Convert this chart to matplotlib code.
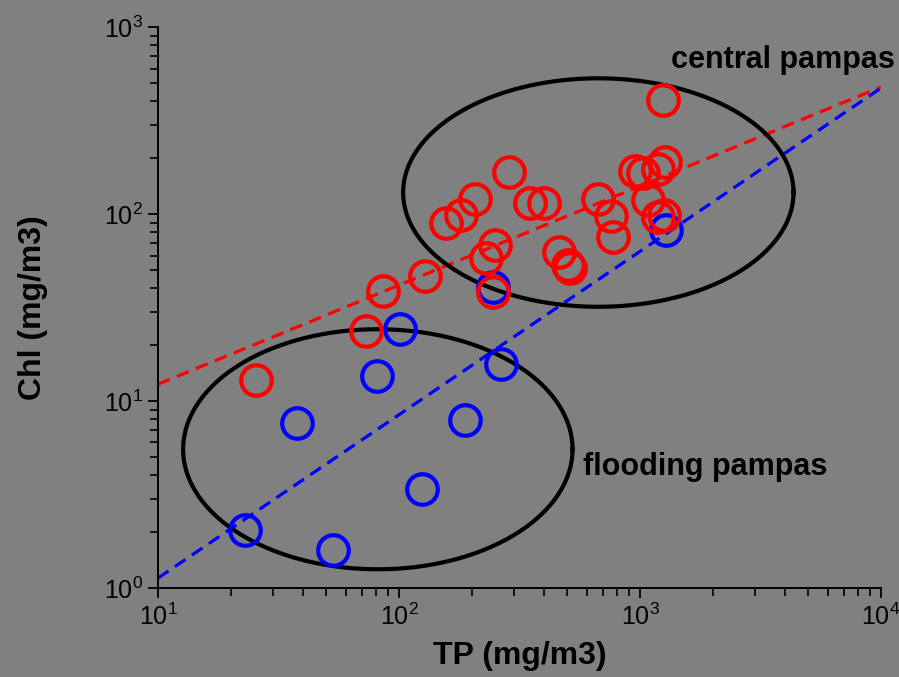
import numpy as np
import matplotlib
matplotlib.use('Agg')
import matplotlib.pyplot as plt
from matplotlib.ticker import LogLocator, LogFormatterSciNotation, NullFormatter

plt.rcParams['font.family'] = ['Liberation Sans', 'DejaVu Sans']
plt.rcParams['mathtext.fontset'] = 'custom'
plt.rcParams['mathtext.rm'] = 'Liberation Sans'
plt.rcParams['mathtext.it'] = 'Liberation Sans'
plt.rcParams['mathtext.default'] = 'regular'

# central pampas lakes (red)
tp_central = [25.5, 72.8, 85.6, 127.8, 230, 249, 245, 157, 181, 206, 285, 348, 398,
              463, 502, 510, 668, 759, 769, 957, 1026, 1077, 1184, 1270, 1184, 1262, 1242]
chl_central = [12.9, 23.7, 38.7, 46.6, 58, 68.3, 38.4, 89.2, 98.8, 121, 167, 114, 115,
               62.9, 53.4, 51.2, 120, 97.6, 75.6, 170, 166, 119, 175, 190, 96.8, 98.8, 407]

# flooding pampas lakes (blue)
tp_flooding = [22.9, 53.0, 37.9, 81.1, 101, 124, 188, 264, 245, 1282]
chl_flooding = [2.04, 1.60, 7.66, 13.6, 24.2, 3.37, 7.91, 15.8, 40.9, 82.1]

# fitted regression lines (end points)
fit_x = [10, 10000]
fit_central = [12.3, 478]
fit_flooding = [1.13, 472]

# group ellipses in log10 units: centre x, centre y, half-width, half-height
ell_central = (2.827, 2.115, 0.810, 0.611)
ell_flooding = (1.912, 0.742, 0.808, 0.642)

BG = '#808080'

fig = plt.figure(figsize=(8.99, 6.77), dpi=100, facecolor=BG)
ax = fig.add_axes([0.1758, 0.1315, 0.8042, 0.8285])
ax.set_facecolor(BG)
ax.set_xscale('log')
ax.set_yscale('log')
ax.set_xlim(10, 1e4)
ax.set_ylim(1, 1e3)

# dashed fit lines
ax.plot(fit_x, fit_central, color='#ff0000', lw=2.3, dashes=(4, 2.4), zorder=2)
ax.plot(fit_x, fit_flooding, color='#0000ff', lw=2.3, dashes=(4, 2.4), zorder=2)

# ellipses drawn in log space
t = np.linspace(0, 2 * np.pi, 400)
for cx, cy, rx, ry in (ell_central, ell_flooding):
    ax.plot(10 ** (cx + rx * np.cos(t)), 10 ** (cy + ry * np.sin(t)),
            color='black', lw=3, zorder=3, clip_on=False)

# points
ax.plot(tp_flooding, chl_flooding, 'o', ms=22, mfc='none', mec='#0000ff', mew=3.0,
        ls='none', zorder=4)
ax.plot(tp_central, chl_central, 'o', ms=22, mfc='none', mec='#ff0000', mew=3.0,
        ls='none', zorder=5)

ax.text(1.019, 0.941, 'central pampas', transform=ax.transAxes, ha='right',
        va='center', fontsize=22, fontweight='bold', color='black')
ax.text(0.588, 0.216, 'flooding pampas', transform=ax.transAxes, ha='left',
        va='center', fontsize=22, fontweight='bold', color='black')

# axes styling
for s in ('top', 'right'):
    ax.spines[s].set_visible(False)
for s in ('left', 'bottom'):
    ax.spines[s].set_linewidth(1.4)
    ax.spines[s].set_color('black')

ax.xaxis.set_major_locator(LogLocator(base=10, numticks=10))
ax.yaxis.set_major_locator(LogLocator(base=10, numticks=10))
ax.xaxis.set_minor_locator(LogLocator(base=10, subs=np.arange(2, 10), numticks=10))
ax.yaxis.set_minor_locator(LogLocator(base=10, subs=np.arange(2, 10), numticks=10))
ax.xaxis.set_major_formatter(LogFormatterSciNotation())
ax.yaxis.set_major_formatter(LogFormatterSciNotation())
ax.xaxis.set_minor_formatter(NullFormatter())
ax.yaxis.set_minor_formatter(NullFormatter())
ax.tick_params(which='major', direction='out', length=7, width=1.3, labelsize=18,
               colors='black', pad=4)
ax.tick_params(which='minor', direction='out', length=6, width=1.2, colors='black')

ax.set_xlabel('TP (mg/m3)', fontsize=23, fontweight='bold', labelpad=8)
ax.set_ylabel('Chl (mg/m3)', fontsize=23, fontweight='bold', labelpad=40)

fig.savefig('out.png', dpi=100, facecolor=BG)
